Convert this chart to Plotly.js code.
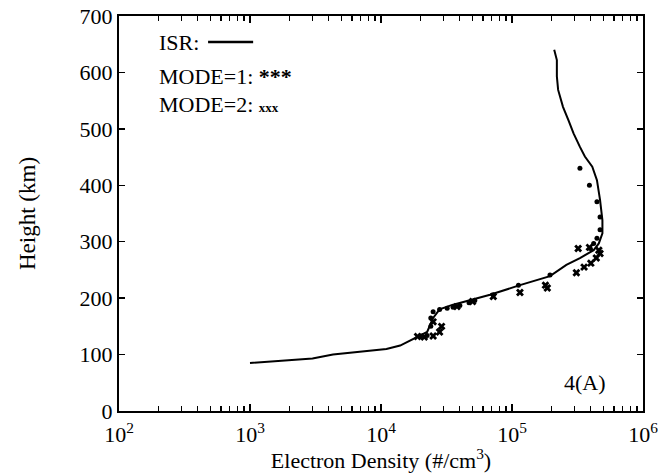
<!DOCTYPE html>
<html>
<head>
<meta charset="utf-8">
<script src="https://cdn.plot.ly/plotly-3.0.1.min.js"></script>
<style>html,body{margin:0;padding:0;background:#fff;}#chart{width:658px;height:473px;}</style>
</head>
<body>
<div id="chart"></div>
<script>
// ISR profile: electron density (#/cm^3) and height (km)
var isrDensity = [1.0e3,1.8e3,3.0e3,4.3e3,6.6e3,1.1e4,1.4e4,1.85e4,2.25e4,2.5e4,2.8e4,3.5e4,4.3e4,6.8e4,1.15e5,1.95e5,2.6e5,3.3e5,4.2e5,4.6e5,4.9e5,4.9e5,4.7e5,4.45e5,4.1e5,3.6e5,3.3e5,2.95e5,2.7e5,2.45e5,2.25e5,2.2e5,2.2e5,2.1e5];
var isrHeight  = [85,89,93,100,105,110,116,130,140,165,180,188,194,206,223,239,259,271,285,297,315,338,374,409,433,451,468,492,515,539,569,593,622,640];

// MODE=1 points
var mode1Density = [2.0e4,2.25e4,2.4e4,2.4e4,2.5e4,2.8e4,3.2e4,3.55e4,4.0e4,4.7e4,5.2e4,7.2e4,1.12e5,1.95e5,3.3e5,3.9e5,4.45e5,4.7e5,4.7e5,4.45e5,4.2e5,3.95e5];
var mode1Height  = [133,134,150,165,176,180,182,184,187,192,196,206,223,241,430,400,371,344,321,306,297,288];

// MODE=2 points
var mode2Density = [1.9e4,2.14e4,2.5e4,2.8e4,2.9e4,2.5e4,3.8e4,5.0e4,7.2e4,1.15e5,1.8e5,1.86e5,3.1e5,3.55e5,4.0e5,4.4e5,4.7e5,4.6e5,3.2e5,3.9e5];
var mode2Height  = [132,131,133,140,150,158,185,194,203,210,223,218,245,255,262,271,279,285,288,290];

var xTickVals = [1e2,1e3,1e4,1e5,1e6];
var xTickText = ['10<sup>2</sup>','10<sup>3</sup>','10<sup>4</sup>','10<sup>5</sup>','10<sup>6</sup>'];
var yTickVals = [0,100,200,300,400,500,600,700];

var minorVals = [];
for (var d = 2; d < 6; d++) { for (var m = 2; m <= 9; m++) { minorVals.push(m * Math.pow(10, d)); } }

var serif = 'Liberation Serif, Times New Roman, serif';

var traces = [
  {x: isrDensity, y: isrHeight, mode: 'lines', line: {color: '#000', width: 2}, hoverinfo: 'skip'},
  {x: mode1Density, y: mode1Height, mode: 'markers', marker: {symbol: 'circle', size: 5, color: '#000'}},
  {x: mode2Density, y: mode2Height, mode: 'markers', marker: {symbol: 'x', size: 7, color: '#000'}}
];

var layout = {
  width: 658, height: 473,
  margin: {l: 119, r: 15, t: 16, b: 62},
  paper_bgcolor: '#fff', plot_bgcolor: '#fff',
  showlegend: false,
  font: {family: serif, size: 22, color: '#000'},
  xaxis: {
    type: 'log', range: [2, 6],
    tickmode: 'array', tickvals: xTickVals, ticktext: xTickText,
    ticklabeloverflow: 'allow', ticklabelstandoff: 3,
    ticks: 'inside', ticklen: 7, tickwidth: 1.5, tickcolor: '#000',
    minor: {tickmode: 'array', tickvals: minorVals, ticks: 'inside', ticklen: 5, tickwidth: 1.2, tickcolor: '#000'},
    showline: true, linecolor: '#000', linewidth: 2, mirror: 'ticks',
    showgrid: false, zeroline: false,
    tickfont: {family: serif, size: 22},
    title: {text: 'Electron Density (#/cm<sup>3</sup>)', font: {family: serif, size: 22}, standoff: 0}
  },
  yaxis: {
    range: [0, 700],
    tickmode: 'array', tickvals: yTickVals,
    ticklabeloverflow: 'allow',
    ticks: 'inside', ticklen: 6, tickwidth: 1.5, tickcolor: '#000',
    showline: true, linecolor: '#000', linewidth: 2, mirror: 'ticks',
    showgrid: false, zeroline: false,
    tickfont: {family: serif, size: 22},
    title: {text: 'Height (km)', font: {family: serif, size: 23}, standoff: 38}
  },
  annotations: [
    {xref: 'paper', yref: 'paper', x: 0.072, y: 0.934, xanchor: 'left', yanchor: 'middle', text: 'ISR:', showarrow: false, font: {family: serif, size: 22}},
    {xref: 'paper', yref: 'paper', x: 0.072, y: 0.848, xanchor: 'left', yanchor: 'middle', text: 'MODE=1: <b>***</b>', showarrow: false, font: {family: serif, size: 22}},
    {xref: 'paper', yref: 'paper', x: 0.072, y: 0.777, xanchor: 'left', yanchor: 'middle', text: 'MODE=2: <span style="font-size:13px"><b>xxx</b></span>', showarrow: false, font: {family: serif, size: 22}},
    {xref: 'paper', yref: 'paper', x: 0.89, y: 0.071, xanchor: 'center', yanchor: 'middle', text: '4(A)', showarrow: false, font: {family: serif, size: 22}}
  ],
  shapes: [
    {type: 'line', xref: 'paper', yref: 'paper', x0: 0.17, x1: 0.256, y0: 0.934, y1: 0.934, line: {color: '#000', width: 2.5}}
  ]
};

Plotly.newPlot('chart', traces, layout, {displayModeBar: false, staticPlot: true});
</script>
</body>
</html>
